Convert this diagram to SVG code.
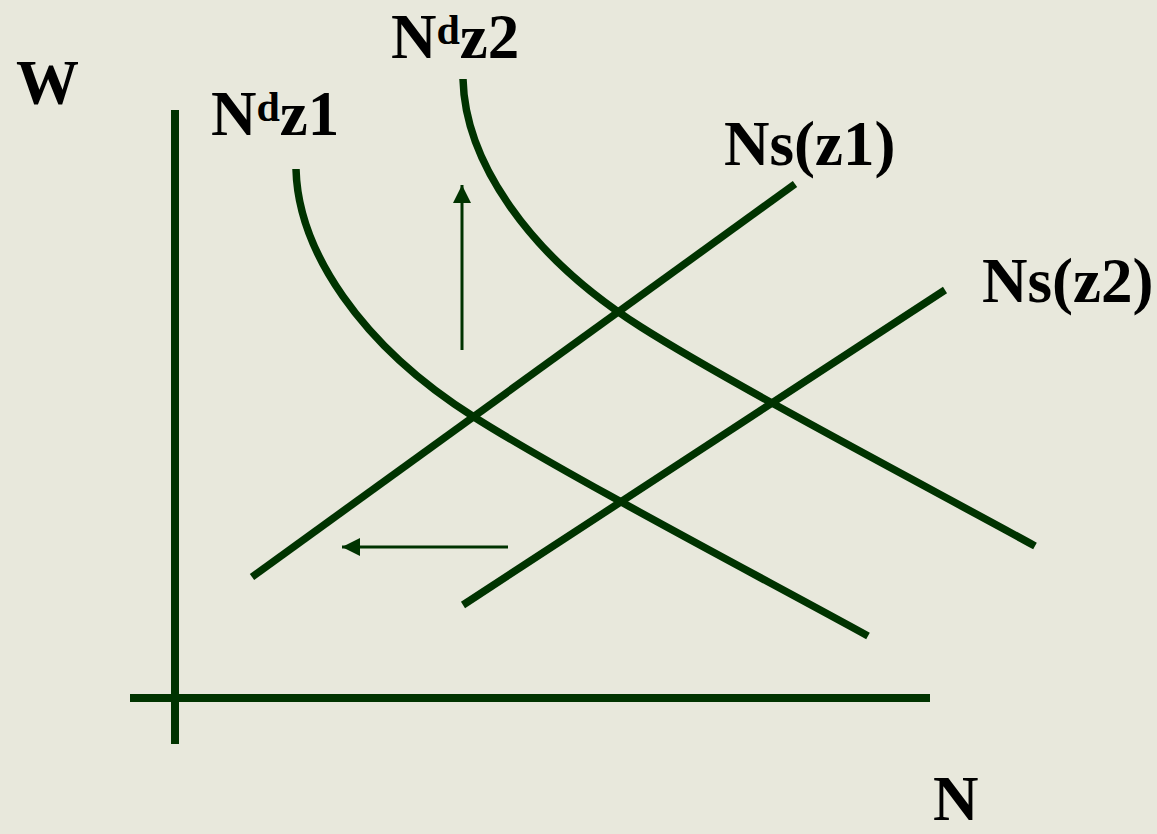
<svg xmlns="http://www.w3.org/2000/svg" width="1157" height="834" viewBox="0 0 1157 834">
<style>
.lbl{font-family:"Liberation Serif","Times New Roman",serif;font-weight:bold;font-size:63px;fill:#000}
.ax{stroke:#003300;stroke-width:8;fill:none}
.cv{stroke:#003300;stroke-width:7.5;fill:none}
.ar{stroke:#003300;stroke-width:3;fill:none}
</style>
<defs>
<marker id="ah" markerUnits="userSpaceOnUse" markerWidth="18" markerHeight="18" viewBox="0 0 16 16" refX="16" refY="8" orient="auto">
<path d="M0,0 L16,8 L0,16 Z" fill="#003300"/>
</marker>
</defs>
<rect width="1157" height="834" fill="#E8E8DC"/>
<g id="axes">
<line class="ax" x1="175" y1="110" x2="175" y2="744"/>
<line class="ax" x1="130" y1="698" x2="930" y2="698"/>
</g>
<g id="labels">
<text id="W" class="lbl" x="16" y="104">W</text>
<text id="N" class="lbl" x="933" y="820">N</text>
</g>
<g id="Nd-z1">
<path class="cv" d="M296,169 C298,250 360,345 474,417 C564,474 768,581 868,636"/>
<text class="lbl" x="211" y="135">N<tspan font-size="42" dy="-14">d</tspan><tspan dy="14">z1</tspan></text>
</g>
<g id="Nd-z2">
<path class="cv" transform="translate(167,-90)" d="M296,169 C298,250 360,345 474,417 C564,474 768,581 868,636"/>
<text class="lbl" x="391" y="58">N<tspan font-size="42" dy="-14">d</tspan><tspan dy="14">z2</tspan></text>
</g>
<g id="Ns-z1">
<line class="cv" x1="252" y1="577" x2="795" y2="184"/>
<text class="lbl" x="724" y="165">Ns(z1)</text>
</g>
<g id="Ns-z2">
<line class="cv" x1="463" y1="605" x2="945" y2="290"/>
<text class="lbl" x="982" y="302">Ns(z2)</text>
</g>
<g id="connectors">
<line class="ar" x1="462" y1="350" x2="462" y2="185" marker-end="url(#ah)"/>
<line class="ar" x1="508" y1="547" x2="342" y2="547" marker-end="url(#ah)"/>
</g>
</svg>
